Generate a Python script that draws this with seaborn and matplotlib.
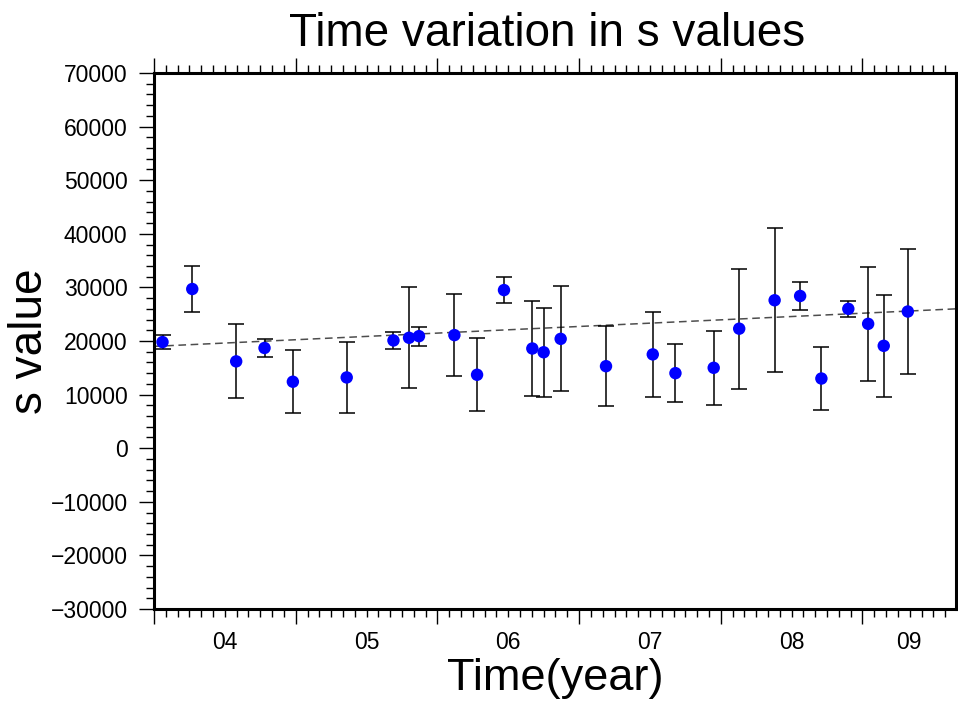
import numpy as np
import pandas as pd
import matplotlib
matplotlib.use('Agg')
import matplotlib.pyplot as plt
import seaborn as sns
from matplotlib.ticker import MultipleLocator

# s values (decimal year, value, half error)
years = [2004.06, 2004.27, 2004.58, 2004.78, 2004.98, 2005.36, 2005.69, 2005.80, 2005.87,
         2006.12, 2006.28, 2006.47, 2006.67, 2006.75, 2006.87, 2007.19, 2007.52, 2007.68,
         2007.95, 2008.13, 2008.38, 2008.56, 2008.71, 2008.90, 2009.04, 2009.15, 2009.32]
s_vals = [19800, 29700, 16200, 18700, 12400, 13200, 20100, 20600, 20900,
          21100, 13700, 29500, 18600, 17900, 20400, 15300, 17500, 14000,
          15000, 22300, 27600, 28400, 13000, 26000, 23200, 19100, 25500]
s_err = [1350, 4250, 6900, 1600, 5850, 6550, 1500, 9450, 1750,
         7600, 6800, 2400, 8850, 8300, 9800, 7500, 7950, 5350,
         6950, 11200, 13450, 2550, 5800, 1500, 10650, 9500, 11700]

# linear trend end points
trend_x = [2004.0, 2009.66]
trend_y = [19000, 26000]

year_labels = ['04', '05', '06', '07', '08', '09']

df = pd.DataFrame({'year': years, 's': s_vals, 'err': s_err})

sns.set_theme(style='ticks')
plt.rcParams['font.family'] = ['Liberation Sans', 'DejaVu Sans']
plt.rcParams['text.color'] = 'black'
plt.rcParams['axes.labelcolor'] = 'black'

fig = plt.figure(figsize=(9.58, 7.04), dpi=100)
ax = fig.add_axes([154/958, 1-609/704, (956-154)/958, (609-73)/704])

xmin, xmax = trend_x[0], trend_x[1]

# trend line
ax.plot(trend_x, trend_y, color='0.3', lw=1.1, ls=(0, (5, 3)), zorder=1)

# error bars + points
ax.errorbar(df['year'], df['s'], yerr=df['err'], fmt='none', ecolor='black',
            elinewidth=1.1, capsize=6, capthick=1.1, zorder=2)
sns.scatterplot(data=df, x='year', y='s', color='#0000ff', s=80, edgecolor='none',
                ax=ax, zorder=3, legend=False)

ax.set_xlim(xmin, xmax)
ax.set_ylim(-30000, 70000)

# y axis
ax.yaxis.set_major_locator(MultipleLocator(10000))
ax.yaxis.set_minor_locator(MultipleLocator(2000))
ax.yaxis.set_major_formatter(matplotlib.ticker.FuncFormatter(lambda v, p: f'{int(v)}'.replace('-', '\u2212')))

# x axis: year boundaries as major ticks, months as minor, labels centred in each year
starts = np.arange(2004, 2010)
ax.set_xticks(starts)
ax.set_xticklabels([])
ax.xaxis.set_minor_locator(MultipleLocator(1/12))

ax.tick_params(which='both', direction='out', top=True, right=True, width=1, color='black')
ax.tick_params(which='major', length=11, labelsize=16.5, pad=8, labelcolor='black')
ax.tick_params(which='minor', length=5.5)

mids = [(max(a, xmin) + min(a + 1, xmax)) / 2 for a in starts]
sec = ax.secondary_xaxis('bottom')
sec.set_xticks(mids)
sec.set_xticklabels(year_labels)
sec.tick_params(length=0, labelsize=16.5, pad=16, labelcolor='black')
sec.spines['bottom'].set_visible(False)

for sp in ax.spines.values():
    sp.set_linewidth(2.2)
    sp.set_color('black')

ax.set_xlabel('Time(year)', fontsize=32.5, va='baseline')
ax.xaxis.set_label_coords(0.5, (609-690)/536)
ax.set_ylabel('s value', fontsize=33, va='baseline')
ax.yaxis.set_label_coords((42-154)/802, 0.5)

fig.text(547/958, 1-46/704, 'Time variation in s values', fontsize=33,
         ha='center', va='baseline')

fig.savefig('out.png', dpi=100)
